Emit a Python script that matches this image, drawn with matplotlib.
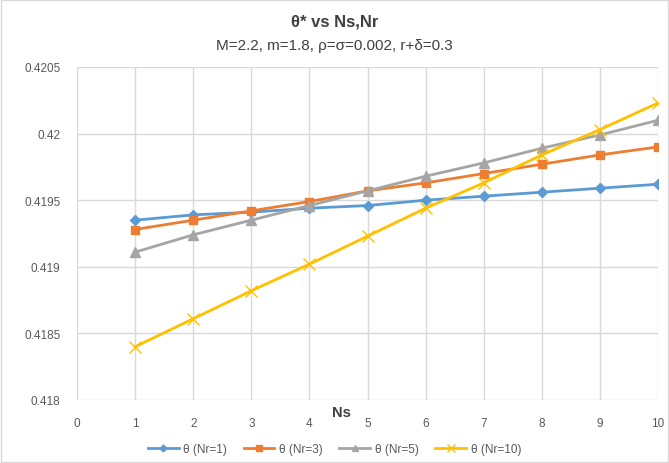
import matplotlib.pyplot as plt
from matplotlib.ticker import FuncFormatter

plt.rcParams['font.family'] = ['Liberation Sans', 'DejaVu Sans']

ns = [1, 2, 3, 4, 5, 6, 7, 8, 9, 10]
nr1 = [0.41935, 0.41939, 0.41941, 0.41944, 0.41946, 0.41950, 0.41953, 0.41956, 0.41959, 0.41962]
nr3 = [0.41928, 0.41935, 0.41942, 0.41949, 0.41957, 0.41963, 0.41970, 0.41977, 0.41984, 0.41990]
nr5 = [0.41911, 0.41924, 0.41935, 0.41946, 0.41957, 0.41968, 0.41978, 0.41989, 0.41999, 0.42010]
nr10 = [0.41840, 0.41861, 0.41882, 0.41902, 0.41923, 0.41944, 0.41963, 0.41984, 0.42003, 0.42023]
labels = ['θ (Nr=1)', 'θ (Nr=3)', 'θ (Nr=5)', 'θ (Nr=10)']
yticks = [0.418, 0.4185, 0.419, 0.4195, 0.42, 0.4205]

txt = '#595959'
fig = plt.figure(figsize=(6.69, 4.64), dpi=100)
ax = fig.add_axes([77 / 669, 1 - 401 / 464, (658 - 77) / 669, (401 - 68) / 464])

ax.plot(ns, nr1, color='#5B9BD5', marker='D', markersize=5, lw=2, label=labels[0])
ax.plot(ns, nr3, color='#ED7D31', marker='s', markersize=6, lw=2, label=labels[1])
ax.plot(ns, nr5, color='#A5A5A5', marker='^', markersize=7, lw=2, label=labels[2])
ax.plot(ns, nr10, color='#FFC000', marker='x', markersize=8, lw=2, label=labels[3])

ax.set_xlim(0, 10)
ax.set_ylim(0.418, 0.4205)
ax.set_xticks(range(0, 11))
ax.set_yticks(yticks)
ax.yaxis.set_major_formatter(FuncFormatter(lambda v, p: ('%.4f' % v).rstrip('0').rstrip('.')))
ax.grid(True, color='#D9D9D9', lw=1)
ax.set_axisbelow(True)
for s in ax.spines.values():
    s.set_visible(False)
ax.tick_params(length=0, labelsize=8.5, colors=txt)
ax.tick_params(axis='x', pad=12)
ax.tick_params(axis='y', pad=12)

ax.text(4.55, -0.015, 'Ns', transform=ax.get_xaxis_transform(), ha='center', va='top',
        fontsize=10.5, fontweight='bold', color='#404040')

fig.text(0.5, 1 - 22 / 464, 'θ* vs Ns,Nr', ha='center', va='center', fontsize=12,
         fontweight='bold', color='#404040')
fig.text(0.5, 1 - 46 / 464, 'M=2.2, m=1.8, ρ=σ=0.002, r+δ=0.3', ha='center', va='center',
         fontsize=11, color='#404040')

fig.legend(loc='center', bbox_to_anchor=(0.5, 1 - 450 / 464), ncol=4, frameon=False,
           fontsize=8.5, labelcolor=txt, handlelength=2.6, handletextpad=0.4,
           columnspacing=1.4, markerscale=0.7)

fig.patches.append(plt.Rectangle((0.002, 0.002), 0.996, 0.996, transform=fig.transFigure,
                                 fill=False, edgecolor='#D9D9D9', lw=1))

fig.savefig('out.png', dpi=100)
